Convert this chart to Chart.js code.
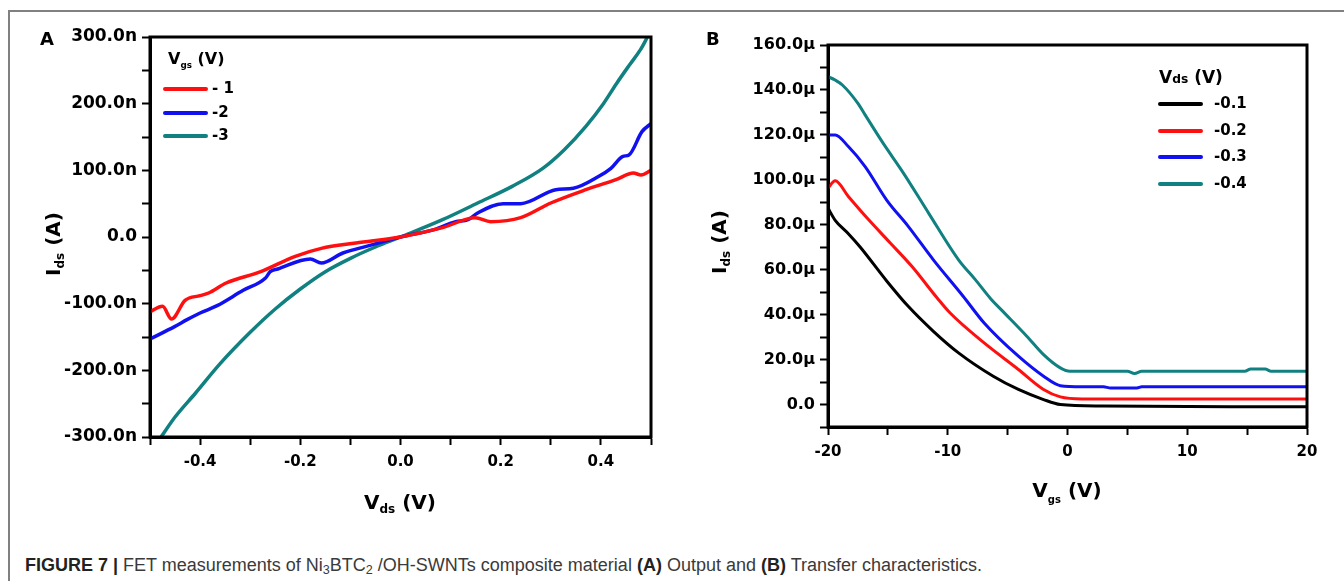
<!DOCTYPE html>
<html>
<head>
<meta charset="utf-8">
<script src="https://cdn.jsdelivr.net/npm/chart.js@4"></script>
<style>
  body { margin: 0; background: #fff; width: 1344px; height: 581px; overflow: hidden; position: relative; font-family: "DejaVu Sans", sans-serif; }
  .box { position: absolute; left: 8px; top: 10px; width: 1400px; height: 600px; border-top: 2px solid #808080; border-left: 2px solid #808080; }
  canvas { position: absolute; }
  .t { position: absolute; font-weight: bold; color: #000; white-space: nowrap; line-height: 1; }
  .sub { font-size: 0.6em; position: relative; top: 0.35em; }
  .rot { transform: translate(-50%, -50%) rotate(-90deg); }
  .leg { position: absolute; font-weight: bold; }
  .leg .row { position: absolute; height: 20px; white-space: nowrap; }
  .leg .ln { position: absolute; left: 0; width: 45px; }
  .leg .lb { position: absolute; top: -8px; font-size: 15px; line-height: 1; white-space: pre; }
  .caption { position: absolute; left: 25px; top: 555px; font-family: "Liberation Sans", Arial, sans-serif; font-size: 18px; color: #3a3a3a; white-space: nowrap; }
  .caption b { color: #222; }
  .caption sub { font-size: 0.7em; vertical-align: -0.25em; line-height: 0; }
</style>
</head>
<body>
<div class="box"></div>
<canvas id="chartA" width="660" height="480" style="left:20px;top:20px;width:660px;height:480px"></canvas>
<canvas id="chartB" width="640" height="480" style="left:700px;top:20px;width:640px;height:480px"></canvas>

<div class="t" style="left:40px;top:30px;font-size:18px">A</div>
<div class="t" style="left:706px;top:30px;font-size:18px">B</div>

<div class="t rot" style="left:53px;top:244px;font-size:20px">I<span class="sub">ds</span> (A)</div>
<div class="t" style="left:400px;top:492px;font-size:20px;transform:translateX(-50%)">V<span class="sub">ds</span> (V)</div>

<div class="t rot" style="left:719px;top:242px;font-size:20px">I<span class="sub">ds</span> (A)</div>
<div class="t" style="left:1067px;top:480px;font-size:20px;transform:translateX(-50%)">V<span class="sub" style="font-size:0.5em;top:0.6em">gs</span> (V)</div>

<div class="t" style="left:168px;top:51px;font-size:16px">V<span class="sub" style="font-size:0.55em;top:0.5em">gs</span> (V)</div>
<div class="leg" id="legA" style="left:163px;top:89px"></div>

<div class="t" style="left:1159px;top:69px;font-size:17px">V<span style="font-size:0.72em">ds</span> (V)</div>
<div class="leg" id="legB" style="left:1158px;top:104px"></div>

<div class="caption"><b>FIGURE 7 |</b> FET measurements of Ni<sub>3</sub>BTC<sub>2</sub> /OH-SWNTs composite material <b>(A)</b> Output and <b>(B)</b> Transfer characteristics.</div>

<script>
// Panel A: output characteristics, Ids (nA) vs Vds (V)
const vdsA1 = [-0.5, -0.475, -0.457, -0.43, -0.4, -0.383, -0.348, -0.279, -0.21, -0.158, -0.089, 0, 0.084, 0.149, 0.18, 0.24, 0.30, 0.37, 0.43, 0.465, 0.48, 0.5];
const idsA1 = [-112, -104, -123, -95, -88, -84, -69, -52, -29, -17, -9, 0, 14, 29, 23, 29, 51, 71, 86, 96, 93, 100];

const vdsA2 = [-0.5, -0.45, -0.426, -0.4, -0.366, -0.314, -0.27, -0.26, -0.245, -0.18, -0.158, -0.115, -0.063, 0, 0.067, 0.11, 0.135, 0.154, 0.205, 0.24, 0.31, 0.345, 0.396, 0.42, 0.444, 0.456, 0.482, 0.5];
const idsA2 = [-153, -134, -124, -114, -103, -80, -62, -52, -48, -33, -39, -24, -13, 0, 11, 23, 26, 36, 50, 50, 71, 73, 91, 103, 121, 123, 158, 170];

const vdsA3 = [-0.478, -0.45, -0.409, -0.36, -0.3, -0.25, -0.2, -0.15, -0.1, -0.05, 0, 0.084, 0.154, 0.223, 0.284, 0.327, 0.37, 0.405, 0.431, 0.457, 0.479, 0.493];
const idsA3 = [-300, -270, -234, -190, -143, -108, -78, -52, -32, -15, 0, 26, 51, 76, 103, 131, 166, 200, 230, 258, 281, 300];

const labelsA = ['- 1', '-2', '-3'];
const colorsA = ['#ff1010', '#1010f0', '#108080'];

// Panel B: transfer characteristics, Ids (µA) vs Vgs (V)
const vgsB1 = [-20, -19.4, -18.3, -17.3, -15.1, -13.3, -11.2, -9.1, -6.2, -4.1, -2.0, -0.6, 3.0, 13.6, 20];
const idsB1 = [87.4, 82, 76, 70, 55, 43.7, 32.6, 23, 12.6, 6.7, 2.2, 0, -0.7, -1, -1];

const vgsB2 = [-20, -19.4, -18.3, -16.6, -14.8, -13.0, -10.9, -9.8, -6.96, -4.1, -2.0, -0.6, 1.2, 20];
const idsB2 = [96.3, 99.6, 92.6, 82.2, 71.9, 61.5, 47.5, 40.7, 27.4, 15.6, 6.7, 3.4, 2.5, 2.5];

const vgsB3 = [-20, -19.4, -18.3, -16.9, -15.1, -13.3, -11.2, -8.7, -6.96, -4.1, -2.0, -0.6, 1.2, 3.0, 3.6, 5.8, 6.2, 20];
const idsB3 = [120, 120, 114.8, 105.9, 91, 79.3, 64.4, 48.1, 36.3, 21.5, 12.6, 8.4, 7.9, 7.9, 7.4, 7.4, 7.9, 7.9];

const vgsB4 = [-20, -19.4, -18.8, -17.5, -16.9, -15.4, -13.7, -11.6, -9.1, -7.7, -6.4, -5.5, -3.4, -2.0, -0.6, 0.2, 5.0, 5.6, 6.2, 14.8, 15.3, 16.5, 17.0, 20];
const idsB4 = [145.9, 144.4, 142.2, 134, 128.9, 116.3, 103, 85.2, 64.4, 55.6, 47, 42, 30.4, 22.2, 16.3, 14.8, 14.8, 13.8, 14.8, 14.8, 15.8, 15.8, 14.8, 14.8];

const labelsB = ['-0.1', '-0.2', '-0.3', '-0.4'];
const colorsB = ['#000000', '#ff1010', '#1010f0', '#108080'];

const pts = (xs, ys) => xs.map((x, i) => ({ x, y: ys[i] }));

/* frame round the plot area */
const framePlugin = {
    id: 'frame',
    afterDraw(chart) {
        const { ctx, chartArea: a } = chart;
        ctx.save();
        ctx.strokeStyle = '#000';
        ctx.lineWidth = 3;
        ctx.strokeRect(a.left, a.top, a.right - a.left, a.bottom - a.top);
        ctx.restore();
    }
};

const tickFont = { family: 'DejaVu Sans', weight: 'bold', size: 16 };
const axisGrid = { drawOnChartArea: false, drawTicks: true, tickLength: 8, tickWidth: 2, tickColor: '#000' };

const makeDataset = (data, color, width) => ({
    data, borderColor: color, borderWidth: width, pointRadius: 0,
    cubicInterpolationMode: 'monotone', fill: false
});

const createChart = (id, datasets, sc) => new Chart(document.getElementById(id), {
    type: 'line',
    data: { datasets },
    plugins: [framePlugin],
    options: {
        responsive: false,
        animation: false,
        layout: { padding: sc.padding },
        plugins: { legend: { display: false }, tooltip: { enabled: false } },
        scales: {
            x: {
                type: 'linear', min: sc.xmin, max: sc.xmax,
                grid: axisGrid,
                border: { color: '#000', width: 3 },
                afterFit: s => { s.height = sc.xh; },
                ticks: {
                    stepSize: sc.xstep, autoSkip: false, maxRotation: 0, color: '#000', padding: 8,
                    font: { ...tickFont, size: 15 }, callback: sc.xfmt
                }
            },
            y: {
                min: sc.ymin, max: sc.ymax,
                grid: axisGrid,
                border: { color: '#000', width: 3 },
                afterFit: s => { s.width = sc.yw; },
                ticks: {
                    stepSize: sc.ystep, autoSkip: false, color: '#000', padding: 5,
                    font: { ...tickFont, size: sc.ysize }, callback: sc.yfmt
                }
            }
        }
    }
});

createChart('chartA', [
    makeDataset(pts(vdsA1, idsA1), colorsA[0], 3.5),
    makeDataset(pts(vdsA2, idsA2), colorsA[1], 3.5),
    makeDataset(pts(vdsA3, idsA3), colorsA[2], 3.5)
], {
    padding: { top: 17, right: 29, left: 0, bottom: 0 }, xh: 63, yw: 130, ysize: 17,
    xmin: -0.5, xmax: 0.5, xstep: 0.1, ymin: -300, ymax: 300, ystep: 50,
    xfmt: v => {
        const k = Math.round(v * 10);
        return (k % 2 === 0 && Math.abs(k) < 5) ? (k / 10).toFixed(1) : '';
    },
    yfmt: v => {
        const k = Math.round(v);
        if (k % 100 !== 0) return '';
        return k === 0 ? '0.0' : k.toFixed(1) + 'n';
    }
});

createChart('chartB', [
    makeDataset(pts(vgsB1, idsB1), colorsB[0], 3),
    makeDataset(pts(vgsB2, idsB2), colorsB[1], 3),
    makeDataset(pts(vgsB3, idsB3), colorsB[2], 3),
    makeDataset(pts(vgsB4, idsB4), colorsB[3], 3)
], {
    padding: { top: 25, right: 33, left: 0, bottom: 0 }, xh: 73, yw: 128, ysize: 16,
    xmin: -20, xmax: 20, xstep: 5, ymin: -10, ymax: 160, ystep: 10,
    xfmt: v => (Math.round(v) % 10 === 0 ? String(Math.round(v)) : ''),
    yfmt: v => {
        const k = Math.round(v);
        if (k < 0 || k % 20 !== 0) return '';
        return k === 0 ? '0.0' : k.toFixed(1) + 'μ';
    }
});

/* legends */
const buildLegend = (id, labels, colors, step, lw, lx) => {
    const el = document.getElementById(id);
    labels.forEach((lab, i) => {
        el.insertAdjacentHTML('beforeend',
            `<div class="row" style="top:${i * step}px">
               <div class="ln" style="top:${-lw / 2}px;height:${lw}px;background:${colors[i]};border-radius:${lw / 2}px"></div>
               <div class="lb" style="left:${lx}px">${lab}</div>
             </div>`);
    });
};
buildLegend('legA', labelsA, colorsA, 23.5, 4, 49);
buildLegend('legB', labelsB, colorsB, 26.7, 4, 56);
</script>
</body>
</html>
